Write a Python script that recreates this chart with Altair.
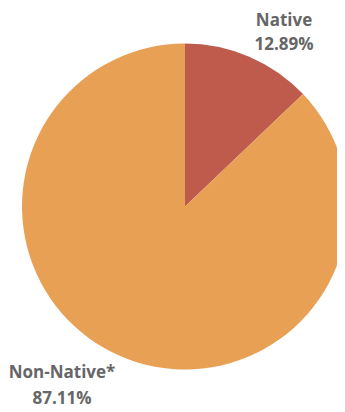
import altair as alt
import pandas as pd

categories = ["Native", "Non-Native*"]
shares = [12.89, 87.11]
slice_order = [0, 1]
colors = ["#BE5B4C", "#E8A055"]

df = pd.DataFrame({"category": categories, "share": shares, "order": slice_order})

base = alt.Chart(df)

pie = base.mark_arc(radius=163).encode(
    theta=alt.Theta("share:Q", stack=True),
    color=alt.Color("category:N", scale=alt.Scale(domain=categories, range=colors), legend=None),
    order=alt.Order("order:Q"),
    x=alt.value(177),
    y=alt.value(198.5),
)

def label(cat, xpos, ypos, lh):
    return base.transform_filter(alt.datum.category == cat).transform_calculate(
        txt="datum.category + '\\n' + format(datum.share, '.2f') + '%'"
    ).mark_text(
        font="Open Sans", fontSize=17, fontWeight="bold", color="#666666",
        lineBreak="\n", lineHeight=lh, align="center", baseline="middle",
    ).encode(text="txt:N", x=alt.value(xpos), y=alt.value(ypos))

chart = alt.layer(
    pie,
    label("Native", 276, 12.5, 24),
    label("Non-Native*", 54, 365, 26),
).properties(
    width=329, height=402, padding=0, autosize=alt.AutoSizeParams(type="none")
).configure_view(stroke=None)

chart.save("out.html", embed_options={"renderer": "svg", "actions": False})
